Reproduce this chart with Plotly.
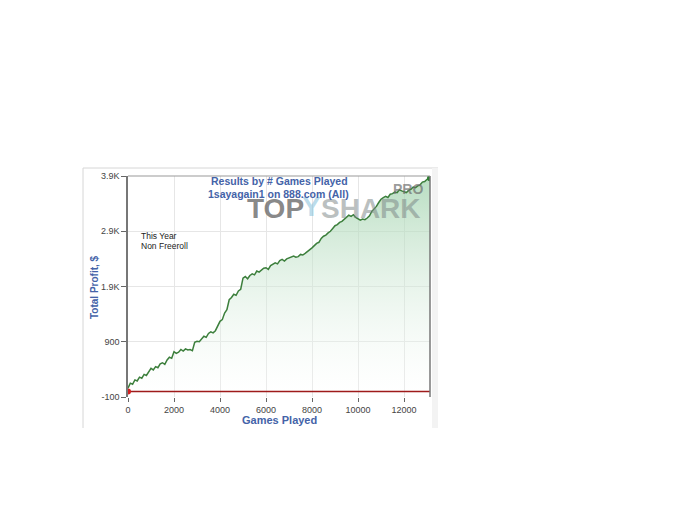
import plotly.graph_objects as go

# ---- data ----
games = [0, 100, 200, 300, 400, 500, 600, 700, 800, 900, 1000, 1100, 1200, 1300, 1400, 1500,
         1600, 1700, 1800, 1900, 2000, 2100, 2200, 2300, 2400, 2500, 2600, 2700, 2800, 2900,
         3000, 3100, 3200, 3300, 3400, 3500, 3600, 3700, 3800, 3900, 4000, 4100, 4200, 4300,
         4400, 4500, 4600, 4700, 4800, 4900, 5000, 5100, 5200, 5300, 5400, 5500, 5600, 5700,
         5800, 5900, 6000, 6100, 6200, 6300, 6400, 6500, 6600, 6700, 6800, 6900, 7000, 7100,
         7200, 7300, 7400, 7500, 7600, 7700, 7800, 7900, 8000, 8100, 8200, 8300, 8400, 8500,
         8600, 8700, 8800, 8900, 9000, 9100, 9200, 9300, 9400, 9500, 9600, 9700, 9800, 9900,
         10000, 10100, 10200, 10300, 10400, 10500, 10600, 10700, 10800, 10900, 11000, 11100,
         11200, 11300, 11400, 11500, 11600, 11700, 11800, 11900, 12000, 12100, 12200, 12300,
         12400, 12500, 12600, 12700, 12800, 12900, 13000, 13130]
profit = [60, 150, 130, 210, 190, 260, 240, 310, 290, 360, 420, 390, 450, 430, 500, 520,
          490, 570, 620, 600, 720, 690, 710, 760, 730, 770, 750, 760, 740, 890,
          910, 900, 960, 1000, 980, 1050, 1080, 1060, 1100, 1180, 1270, 1300, 1420, 1480,
          1660, 1700, 1760, 1740, 1820, 1850, 2050, 2080, 2040, 2100, 2130, 2110, 2180, 2160,
          2200, 2230, 2240, 2210, 2280, 2300, 2330, 2310, 2370, 2390, 2360, 2400, 2420, 2440,
          2450, 2430, 2440, 2480, 2470, 2500, 2530, 2560, 2600, 2640, 2680, 2700, 2770, 2810,
          2830, 2870, 2900, 2950, 3000, 3020, 3060, 3080, 3120, 3150, 3190, 3170, 3200, 3150,
          3130, 3100, 3120, 3110, 3140, 3180, 3260, 3300, 3350, 3420, 3480, 3510,
          3530, 3510, 3570, 3580, 3610, 3600, 3650, 3630, 3620, 3600, 3640, 3660,
          3700, 3690, 3720, 3740, 3790, 3800, 3840, 3860]
zero_line_x = [0, 13130]
zero_line_y = [0, 0]
y_tick_vals = [-100, 900, 1900, 2900, 3900]
y_tick_text = ["-100", "900", "1.9K", "2.9K", "3.9K"]
x_tick_vals = [0, 2000, 4000, 6000, 8000, 10000, 12000]
x_tick_text = ["0", "2000", "4000", "6000", "8000", "10000", "12000"]

# page offset (body margin) and plot area in window pixels
OFF = 8
L, R, T, B = 128, 430, 176, 397
W, H = 700, 525


def px(x):
    return (x - L) / (R - L)


def py(y):
    return (B - y) / (B - T)


fig = go.Figure()

fig.add_trace(go.Scatter(
    x=games, y=profit, mode="lines",
    line=dict(color="#3c7f3c", width=1.5),
    fill="tozeroy",
    fillgradient=dict(type="vertical", start=-100, stop=3900,
                      colorscale=[[0, "rgba(255,255,255,0.2)"],
                                  [1, "rgba(160,210,172,0.75)"]]),
    hoverinfo="skip", showlegend=False,
))
fig.add_trace(go.Scatter(
    x=zero_line_x, y=zero_line_y, mode="lines",
    line=dict(color="#9e1b1b", width=1.5), showlegend=False, hoverinfo="skip",
))
fig.add_trace(go.Scatter(
    x=[games[0]], y=[0], mode="markers",
    marker=dict(color="#d42020", size=6), showlegend=False, hoverinfo="skip",
))
fig.add_trace(go.Scatter(
    x=[games[-1]], y=[profit[-1]], mode="markers",
    marker=dict(color="#2e7d32", size=6), showlegend=False, hoverinfo="skip",
))

title_blue = "#4463a8"
font_family = "Liberation Sans, Arial, sans-serif"


def ann(x, y, text, size, color, xanchor="center", yanchor="middle", **kw):
    return dict(x=px(x), y=py(y), xref="paper", yref="paper", text=text, showarrow=False,
                xanchor=xanchor, yanchor=yanchor,
                font=dict(size=size, color=color, family=font_family), **kw)


annotations = [
    # watermark (drawn first, under the titles)
    ann(245, 208, "<b>TOP</b>", 28, "rgba(105,105,105,0.8)", xanchor="left"),
    ann(311, 206, "<b>Y</b>", 28, "rgba(120,185,215,0.5)"),
    ann(319, 208, "<b>SHARK</b>", 28, "rgba(120,130,130,0.5)", xanchor="left"),
    ann(408, 189, "<b>PRO</b>", 14, "rgba(110,110,110,0.7)"),
    # texts
    ann(279, 181, "<b>Results by # Games Played</b>", 10.5, title_blue),
    ann(278, 194, "<b>1sayagain1 on 888.com (All)</b>", 10.5, title_blue),
    ann(139, 236, "This Year", 8.5, "#222", xanchor="left"),
    ann(139, 246, "Non Freeroll", 8.5, "#222", xanchor="left"),
    ann(279, 420, "<b>Games Played</b>", 11, title_blue),
    ann(94, 287, "<b>Total Profit, $</b>", 10, title_blue, textangle=-90),
]

shapes = [
    # outer frame of the embedded picture
    dict(type="line", xref="paper", yref="paper", x0=px(83), x1=px(438), y0=py(168), y1=py(168),
         line=dict(color="#d6d6d6", width=1), layer="below"),
    dict(type="line", xref="paper", yref="paper", x0=px(83), x1=px(83), y0=py(168), y1=py(428),
         line=dict(color="#d6d6d6", width=1), layer="below"),
    dict(type="rect", xref="paper", yref="paper", x0=px(432), x1=px(438), y0=py(168), y1=py(428),
         fillcolor="#f3f3f3", line=dict(width=0), layer="below"),
    # plot borders
    dict(type="line", xref="paper", yref="paper", x0=1, x1=1, y0=0, y1=1,
         line=dict(color="#777", width=1.5)),
    dict(type="line", xref="paper", yref="paper", x0=0, x1=1, y0=1, y1=1,
         line=dict(color="#999", width=1)),
]

fig.update_layout(
    width=W, height=H,
    margin=dict(l=L - OFF, r=W - R + OFF, t=T - OFF, b=H - B + OFF, pad=0),
    paper_bgcolor="white", plot_bgcolor="white",
    annotations=annotations, shapes=shapes,
    font=dict(family=font_family, size=9, color="#444"),
    xaxis=dict(range=[0, 13130], tickvals=x_tick_vals, ticktext=x_tick_text,
               showgrid=True, gridcolor="#e6e6e6", gridwidth=1, zeroline=False,
               showline=False, ticks="outside", ticklen=4, tickcolor="#666",
               tickfont=dict(size=9, color="#444")),
    yaxis=dict(range=[-100, 3900], tickvals=y_tick_vals, ticktext=y_tick_text,
               showgrid=True, gridcolor="#e6e6e6", gridwidth=1, zeroline=False,
               showline=True, linecolor="#777", linewidth=1.5,
               ticks="outside", ticklen=5, tickcolor="#666",
               tickfont=dict(size=9, color="#444")),
)

fig.write_html("out.html")
